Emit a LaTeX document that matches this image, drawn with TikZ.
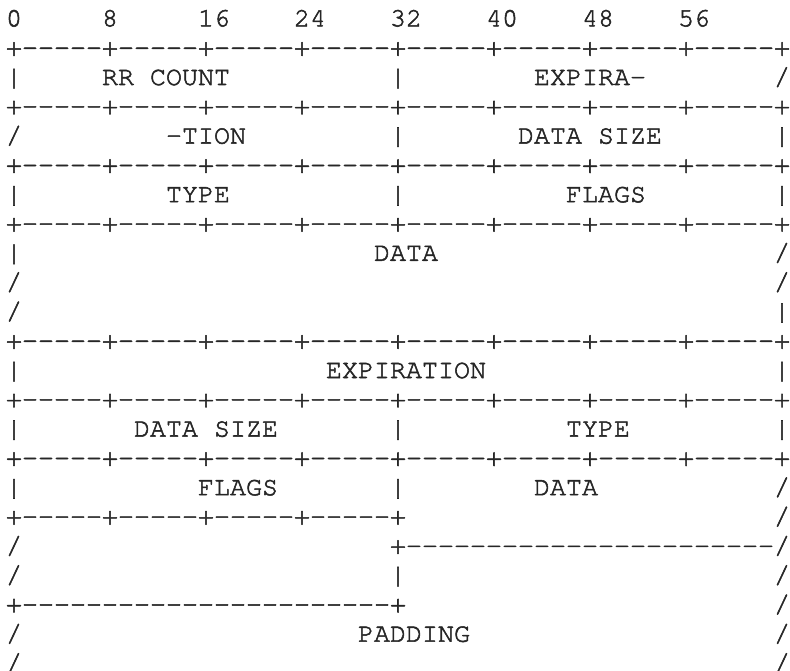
\documentclass[tikz,border=0pt]{standalone}
\usepackage{fontspec}
\newfontfamily\courfont{TeX Gyre Cursor}[FakeBold=2,Ligatures=ResetAll]
\tikzset{
  txt/.style={anchor=base west, inner sep=0pt, outer sep=0pt, text=black!85,
    font=\courfont\fontsize{26.67}{29}\selectfont}
}
% \Ln{name}{row}{column}{text}
\newcommand{\Ln}[4]{\node[txt] (#1) at ({6+16*#3},{26.4+29.3*#2}) {#4};}
\begin{document}
\begin{tikzpicture}[x=1pt,y=-1pt]
\useasboundingbox (0,0) rectangle (790,671);
% bit ruler
\Ln{b0}{0}{0}{0}
\Ln{b8}{0}{6}{8}
\Ln{b16}{0}{12}{16}
\Ln{b24}{0}{18}{24}
\Ln{b32}{0}{24}{32}
\Ln{b40}{0}{30}{40}
\Ln{b48}{0}{36}{48}
\Ln{b56}{0}{42}{56}
% borders
\foreach \r in {1,3,5,7,11,13,15}{
  \Ln{border\r}{\r}{0}{+-{}-{}-{}-{}-+-{}-{}-{}-{}-+-{}-{}-{}-{}-+-{}-{}-{}-{}-+-{}-{}-{}-{}-+-{}-{}-{}-{}-+-{}-{}-{}-{}-+-{}-{}-{}-{}-+}
}
% row 2
\Ln{r2a}{2}{0}{|}
\Ln{r2b}{2}{6}{RR COUNT}
\Ln{r2c}{2}{24}{|}
\Ln{r2d}{2}{33}{EXPIRA-}
\Ln{r2e}{2}{48}{/}
% row 4
\Ln{r4a}{4}{0}{/}
\Ln{r4b}{4}{10}{-TION}
\Ln{r4c}{4}{24}{|}
\Ln{r4d}{4}{32}{DATA SIZE}
\Ln{r4e}{4}{48}{|}
% row 6
\Ln{r6a}{6}{0}{|}
\Ln{r6b}{6}{10}{TYPE}
\Ln{r6c}{6}{24}{|}
\Ln{r6d}{6}{35}{FLAGS}
\Ln{r6e}{6}{48}{|}
% rows 8-10
\Ln{r8a}{8}{0}{|}
\Ln{r8b}{8}{23}{DATA}
\Ln{r8c}{8}{48}{/}
\Ln{r9a}{9}{0}{/}
\Ln{r9b}{9}{48}{/}
\Ln{r10a}{10}{0}{/}
\Ln{r10b}{10}{48}{|}
% row 12
\Ln{r12a}{12}{0}{|}
\Ln{r12b}{12}{20}{EXPIRATION}
\Ln{r12c}{12}{48}{|}
% row 14
\Ln{r14a}{14}{0}{|}
\Ln{r14b}{14}{8}{DATA SIZE}
\Ln{r14c}{14}{24}{|}
\Ln{r14d}{14}{35}{TYPE}
\Ln{r14e}{14}{48}{|}
% row 16
\Ln{r16a}{16}{0}{|}
\Ln{r16b}{16}{12}{FLAGS}
\Ln{r16c}{16}{24}{|}
\Ln{r16d}{16}{33}{DATA}
\Ln{r16e}{16}{48}{/}
% row 17
\Ln{r17a}{17}{0}{+-{}-{}-{}-{}-+-{}-{}-{}-{}-+-{}-{}-{}-{}-+-{}-{}-{}-{}-+}
\Ln{r17b}{17}{48}{/}
% row 18: '+', 23 dashes, '/'
\Ln{r18a}{18}{0}{/}
\Ln{r18b}{18}{24}{+-{}-{}-{}-{}-{}-{}-{}-{}-{}-{}-{}-{}-{}-{}-{}-{}-{}-{}-{}-{}-{}-{}-/}
% row 19
\Ln{r19a}{19}{0}{/}
\Ln{r19b}{19}{24}{|}
\Ln{r19c}{19}{48}{/}
% row 20: '+', 23 dashes, '+'
\Ln{r20a}{20}{0}{+-{}-{}-{}-{}-{}-{}-{}-{}-{}-{}-{}-{}-{}-{}-{}-{}-{}-{}-{}-{}-{}-{}-+}
\Ln{r20b}{20}{48}{/}
% row 21
\Ln{r21a}{21}{0}{/}
\Ln{r21b}{21}{22}{PADDING}
\Ln{r21c}{21}{48}{/}
% row 22
\Ln{r22a}{22}{0}{/}
\Ln{r22b}{22}{48}{/}
\end{tikzpicture}
\end{document}
